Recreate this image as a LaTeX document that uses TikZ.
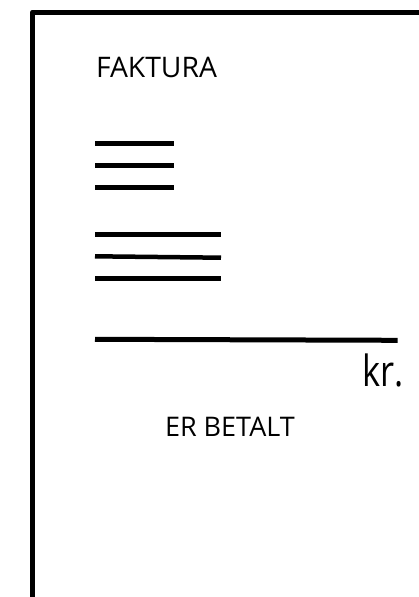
\documentclass[tikz,border=0pt]{standalone}
\usepackage{fontspec}
\setmainfont{Open Sans}
\begin{document}
\begin{tikzpicture}[x=1pt,y=-1pt,
  frame/.style={line width=5pt,line join=round},
  bar/.style={line width=4.5pt},
  lbl/.style={anchor=base west,inner sep=0pt,outer sep=0pt}]
\useasboundingbox (0,0) rectangle (419,597);
\coordinate (fb) at (32.5,600);
\coordinate (fc) at (32.5,12);
\coordinate (fr) at (422,12);
\draw[frame] (fb) -- (fc) -- (fr);
\node[lbl,font=\fontsize{28.3}{34}\selectfont] (title) at (96,77.3) {FAKTURA};
\coordinate (a1) at (95,143.3); \coordinate (b1) at (174,143.3);
\coordinate (a2) at (95,165.3); \coordinate (b2) at (174,165.3);
\coordinate (a3) at (95,187.3); \coordinate (b3) at (174,187.3);
\draw[bar] (a1) -- (b1);
\draw[bar] (a2) -- (b2);
\draw[bar] (a3) -- (b3);
\coordinate (c1) at (95,234.3); \coordinate (d1) at (221,234.3);
\coordinate (c2) at (95,256.3); \coordinate (d2) at (221,257.7);
\coordinate (c3) at (95,278.3); \coordinate (d3) at (221,278.3);
\draw[bar] (c1) -- (d1);
\draw[bar] (c2) -- (d2);
\draw[bar] (c3) -- (d3);
\coordinate (e1) at (95,339.3); \coordinate (e2) at (397.7,340.3);
\draw[bar,line width=5pt] (e1) -- (e2);
\node[lbl,font=\fontsize{43}{50}\selectfont] (kr) at (362.5,386.7) {\scalebox{0.8}[1]{kr.}};
\node[lbl,font=\fontsize{27}{32}\selectfont] (paid) at (165,436.7) {ER BETALT};
\end{tikzpicture}
\end{document}
